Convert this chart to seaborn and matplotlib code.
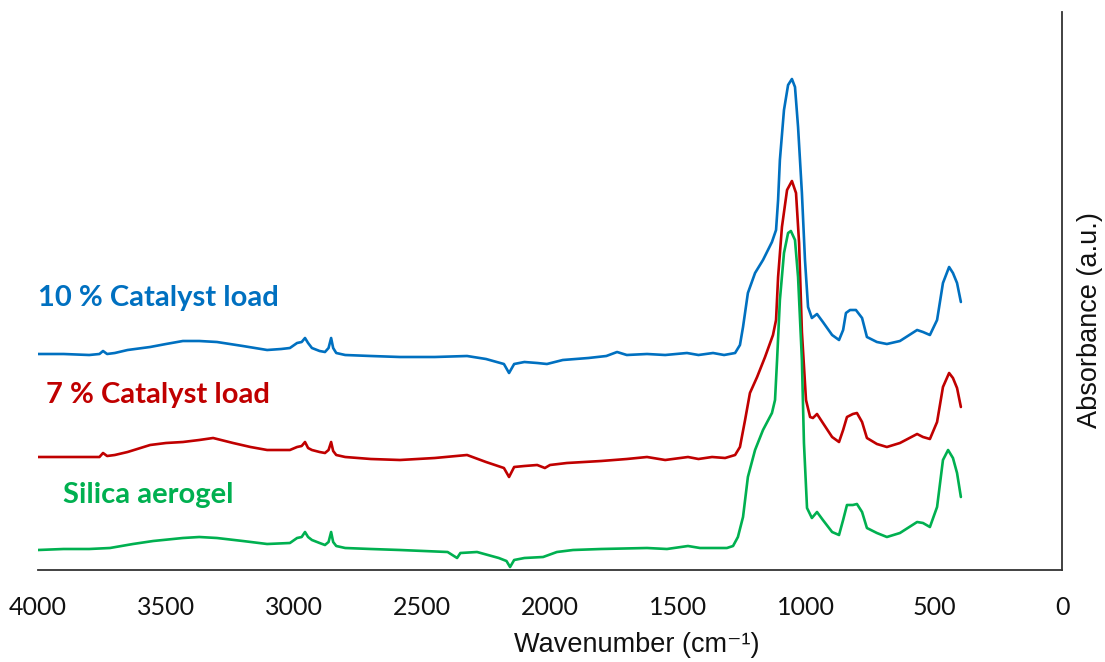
import matplotlib
matplotlib.use("Agg")
import matplotlib.pyplot as plt
import seaborn as sns
import pandas as pd

# ---- data (wavenumber in cm-1, absorbance in a.u., offset stacked) ----
wn_10 = [4000, 3900, 3800, 3760, 3746, 3730, 3700, 3650, 3562, 3500, 3434, 3370, 3301, 3200,
         3105, 3050, 3016, 2988, 2970, 2957, 2945, 2930, 2900, 2879, 2865, 2855, 2847, 2835,
         2800, 2700, 2586, 2450, 2324, 2250, 2180, 2160, 2140, 2100, 2050, 2012, 1950, 1850,
         1780, 1738, 1700, 1621, 1550, 1465, 1420, 1363, 1320, 1277, 1258, 1246, 1227, 1199,
         1168, 1133, 1117, 1109, 1102, 1086, 1070, 1055, 1043, 1031, 1016, 1004, 992, 977,
         957, 934, 898, 871, 855, 844, 828, 805, 781, 762, 723, 684, 633, 566, 543, 516, 488,
         465, 441, 426, 410, 395]
ab_10 = [2.16, 2.16, 2.15, 2.16, 2.19, 2.16, 2.17, 2.20, 2.23, 2.26, 2.29, 2.29, 2.28, 2.24,
         2.20, 2.21, 2.22, 2.27, 2.28, 2.32, 2.27, 2.22, 2.19, 2.18, 2.22, 2.32, 2.22, 2.17,
         2.15, 2.14, 2.13, 2.13, 2.14, 2.11, 2.06, 1.97, 2.06, 2.08, 2.07, 2.06, 2.10, 2.12,
         2.14, 2.18, 2.15, 2.16, 2.15, 2.17, 2.15, 2.17, 2.15, 2.17, 2.25, 2.43, 2.77, 2.97,
         3.10, 3.28, 3.40, 3.70, 4.10, 4.60, 4.85, 4.91, 4.83, 4.43, 3.77, 3.10, 2.63, 2.52,
         2.56, 2.48, 2.35, 2.30, 2.40, 2.57, 2.60, 2.60, 2.52, 2.33, 2.28, 2.26, 2.29, 2.40, 2.38, 2.35, 2.50,
         2.87, 3.03, 2.97, 2.87, 2.68]

wn_7 = [4000, 3900, 3800, 3760, 3746, 3730, 3700, 3650, 3562, 3500, 3434, 3370, 3316, 3238,
        3170, 3105, 3016, 2988, 2970, 2957, 2945, 2930, 2900, 2879, 2865, 2855, 2847, 2835,
        2800, 2700, 2586, 2450, 2324, 2250, 2180, 2160, 2140, 2100, 2050, 2020, 2000, 1934,
        1800, 1700, 1621, 1550, 1461, 1420, 1367, 1316, 1277, 1258, 1238, 1219, 1191, 1160,
        1129, 1117, 1109, 1094, 1074, 1055, 1039, 1027, 1016, 1000, 984, 973, 957, 934, 898,
        871, 855, 840, 817, 801, 781, 762, 723, 684, 633, 566, 543, 516, 488, 465, 441, 426,
        410, 395]
ab_7 = [1.13, 1.13, 1.13, 1.13, 1.17, 1.14, 1.15, 1.18, 1.25, 1.27, 1.28, 1.30, 1.32, 1.27,
        1.23, 1.20, 1.20, 1.23, 1.24, 1.28, 1.22, 1.20, 1.18, 1.17, 1.20, 1.28, 1.19, 1.15,
        1.13, 1.11, 1.10, 1.12, 1.15, 1.08, 1.02, 0.93, 1.03, 1.04, 1.05, 1.02, 1.05, 1.07,
        1.09, 1.11, 1.13, 1.10, 1.13, 1.11, 1.13, 1.12, 1.15, 1.23, 1.50, 1.77, 1.93, 2.13,
        2.35, 2.50, 2.93, 3.43, 3.80, 3.89, 3.77, 3.27, 2.38, 1.70, 1.53, 1.52, 1.56, 1.47, 1.33,
        1.28, 1.40, 1.53, 1.56, 1.57, 1.48, 1.32, 1.26, 1.23, 1.27, 1.36, 1.33, 1.31, 1.48, 1.83, 1.97, 1.92,
        1.82, 1.63]

wn_si = [4000, 3900, 3800, 3719, 3629, 3550, 3434, 3370, 3301, 3200, 3105, 3016, 2988, 2970,
         2957, 2945, 2930, 2900, 2879, 2865, 2855, 2847, 2835, 2800, 2700, 2586, 2400, 2363,
         2350, 2285, 2200, 2170, 2156, 2140, 2100, 2027, 1973, 1910, 1800, 1621, 1543, 1461,
         1414, 1309, 1285, 1266, 1246, 1227, 1199, 1168, 1133, 1121, 1113, 1102, 1086, 1070,
         1059, 1043, 1031, 1016, 1008, 996, 977, 957, 934, 898, 871, 855, 840, 817, 801, 781,
         762, 723, 684, 633, 566, 543, 516, 488, 465, 445, 426, 410, 395]
ab_si = [0.20, 0.21, 0.21, 0.22, 0.26, 0.29, 0.32, 0.33, 0.32, 0.29, 0.26, 0.27, 0.32, 0.33,
         0.38, 0.33, 0.30, 0.27, 0.25, 0.28, 0.38, 0.28, 0.24, 0.22, 0.21, 0.20, 0.18, 0.12,
         0.17, 0.18, 0.12, 0.09, 0.03, 0.10, 0.12, 0.13, 0.18, 0.20, 0.21, 0.22, 0.21, 0.24,
         0.22, 0.22, 0.24, 0.33, 0.53, 0.93, 1.20, 1.40, 1.57, 1.70, 2.10, 2.70, 3.17, 3.37,
         3.39, 3.30, 2.93, 2.10, 1.27, 0.62, 0.52, 0.58, 0.50, 0.38, 0.35, 0.50, 0.65, 0.65, 0.66, 0.58,
         0.42, 0.37, 0.33, 0.37, 0.48, 0.47, 0.43, 0.63, 1.10, 1.20, 1.12, 0.97, 0.73]

series_names = ["10 % Catalyst load", "7 % Catalyst load", "Silica aerogel"]
series_colors = ["#0070C0", "#C00000", "#00B050"]
x_ticks = [4000, 3500, 3000, 2500, 2000, 1500, 1000, 500, 0]

df = pd.concat([
    pd.DataFrame({"wn": wn_10, "ab": ab_10, "sample": series_names[0]}),
    pd.DataFrame({"wn": wn_7, "ab": ab_7, "sample": series_names[1]}),
    pd.DataFrame({"wn": wn_si, "ab": ab_si, "sample": series_names[2]}),
])

sns.set_theme(style="white")
plt.rcParams["font.family"] = ["Lato", "DejaVu Sans"]

fig = plt.figure(figsize=(11.05, 6.62), dpi=100)
ax = fig.add_axes([38 / 1105, 92 / 662, 1024 / 1105, 558 / 662])

sns.lineplot(data=df, x="wn", y="ab", hue="sample", palette=series_colors,
             hue_order=series_names, estimator=None, sort=False,
             linewidth=1.9, legend=False, ax=ax)
for ln in ax.get_lines():
    ln.set_solid_joinstyle("round")
    ln.set_solid_capstyle("round")

ax.set_xlim(4000, 0)
ax.set_ylim(0, 5.58)
ax.set_xticks(x_ticks)
ax.set_xticklabels([str(t) for t in x_ticks], fontsize=18, color="#111111")
ax.set_yticks([])
ax.tick_params(axis="x", length=0, pad=19)

for s in ["left", "top"]:
    ax.spines[s].set_visible(False)
for s in ["bottom", "right"]:
    ax.spines[s].set_visible(True)
    ax.spines[s].set_color("#333333")
    ax.spines[s].set_linewidth(1.3)

ax.set_xlabel("Wavenumber (cm\u207b\u00b9)", fontsize=19.5,
              family=["Liberation Sans", "DejaVu Sans"],
              color="#111111", va="center", ha="center")
ax.xaxis.set_label_coords((637 - 38) / 1024, -(645 - 570) / 558)
ax.yaxis.set_label_position("right")
ax.set_ylabel("Absorbance (a.u.)", fontsize=19.5, family=["Liberation Sans", "DejaVu Sans"],
              color="#111111", rotation=90, va="center", ha="center")
ax.yaxis.set_label_coords((1090 - 38) / 1024, (570 - 320) / 558)

label_pos = [(4000, 2.72), (3969, 1.75), (3902, 0.75)]
for name, col, (lx, ly) in zip(series_names, series_colors, label_pos):
    ax.text(lx, ly, name, color=col, fontsize=21, fontweight="bold", ha="left", va="center")

fig.savefig("out.png", dpi=100)
